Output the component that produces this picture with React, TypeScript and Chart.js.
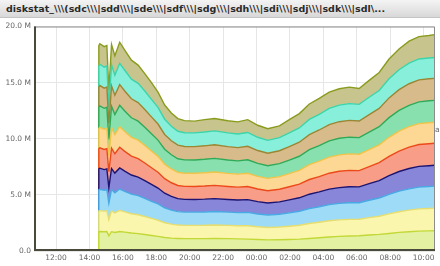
import React, { useEffect, useRef } from "react";
import { Chart, registerables } from "chart.js";

Chart.register(...registerables);

// time in hours since midnight of day 1 (values > 24 are next day)
const times = [10.68, 14.52, 14.56, 14.62, 14.88, 15.04, 15.16, 15.32, 15.52, 15.81, 16.11, 16.51, 16.91, 17.31, 17.71, 18.1, 18.5, 18.9, 19.29, 19.69, 20.29, 20.89, 21.49, 22.28, 22.88, 23.47, 24.07, 24.67, 25.37, 25.96, 26.56, 27.16, 27.75, 28.35, 28.95, 29.55, 30.14, 30.74, 31.34, 31.93, 32.53, 33.13, 33.72, 34.32, 34.66];

const sdc = [0, 0, 1.72, 1.74, 1.72, 1.73, 1.35, 1.72, 1.65, 1.74, 1.68, 1.6, 1.55, 1.47, 1.38, 1.3, 1.2, 1.15, 1.12, 1.1, 1.1, 1.1, 1.12, 1.1, 1.08, 1.06, 1.02, 0.99, 1.0, 1.02, 1.06, 1.12, 1.18, 1.25, 1.3, 1.34, 1.36, 1.42, 1.48, 1.56, 1.66, 1.72, 1.77, 1.79, 1.8];
const sdd = [0, 0, 1.85, 1.86, 1.83, 1.85, 1.44, 1.86, 1.75, 1.88, 1.8, 1.72, 1.68, 1.6, 1.52, 1.44, 1.32, 1.24, 1.19, 1.18, 1.18, 1.19, 1.2, 1.18, 1.17, 1.19, 1.14, 1.11, 1.14, 1.19, 1.24, 1.33, 1.38, 1.44, 1.47, 1.48, 1.47, 1.55, 1.62, 1.75, 1.84, 1.92, 1.98, 2.0, 2.02];
const sde = [0, 0, 1.88, 1.9, 1.86, 1.88, 1.45, 1.9, 1.78, 1.9, 1.83, 1.74, 1.7, 1.62, 1.53, 1.45, 1.33, 1.25, 1.2, 1.18, 1.18, 1.19, 1.2, 1.18, 1.17, 1.19, 1.14, 1.11, 1.14, 1.19, 1.24, 1.33, 1.38, 1.44, 1.47, 1.48, 1.47, 1.55, 1.62, 1.74, 1.83, 1.9, 1.94, 1.95, 1.96];
const sdf = [0, 0, 1.86, 1.88, 1.84, 1.85, 1.4, 1.87, 1.76, 1.88, 1.8, 1.71, 1.66, 1.58, 1.5, 1.42, 1.3, 1.22, 1.16, 1.14, 1.13, 1.14, 1.15, 1.13, 1.12, 1.14, 1.1, 1.07, 1.1, 1.15, 1.2, 1.28, 1.33, 1.38, 1.41, 1.42, 1.41, 1.48, 1.55, 1.66, 1.75, 1.81, 1.85, 1.86, 1.86];
const sdg = [0, 0, 1.8, 1.82, 1.8, 1.8, 1.42, 1.82, 1.72, 1.84, 1.77, 1.68, 1.64, 1.57, 1.49, 1.41, 1.29, 1.22, 1.17, 1.16, 1.16, 1.17, 1.18, 1.16, 1.15, 1.17, 1.12, 1.09, 1.12, 1.17, 1.22, 1.31, 1.36, 1.42, 1.45, 1.46, 1.45, 1.52, 1.6, 1.72, 1.82, 1.9, 1.95, 1.96, 1.96];
const sdh = [0, 0, 1.8, 1.82, 1.8, 1.81, 1.42, 1.82, 1.72, 1.84, 1.77, 1.68, 1.64, 1.57, 1.49, 1.41, 1.3, 1.23, 1.18, 1.17, 1.17, 1.18, 1.19, 1.17, 1.16, 1.18, 1.13, 1.1, 1.13, 1.18, 1.23, 1.32, 1.37, 1.43, 1.46, 1.47, 1.46, 1.52, 1.58, 1.7, 1.78, 1.83, 1.86, 1.87, 1.87];
const sdi = [0, 0, 1.88, 1.9, 1.86, 1.88, 1.45, 1.9, 1.78, 1.9, 1.83, 1.74, 1.7, 1.62, 1.54, 1.45, 1.33, 1.26, 1.2, 1.19, 1.19, 1.2, 1.21, 1.19, 1.18, 1.2, 1.15, 1.12, 1.15, 1.2, 1.25, 1.34, 1.39, 1.45, 1.48, 1.49, 1.48, 1.55, 1.62, 1.75, 1.84, 1.9, 1.94, 1.95, 1.95];
const sdj = [0, 0, 1.8, 1.82, 1.8, 1.81, 1.43, 1.82, 1.72, 1.84, 1.78, 1.69, 1.65, 1.58, 1.5, 1.43, 1.31, 1.25, 1.21, 1.19, 1.19, 1.2, 1.21, 1.19, 1.18, 1.2, 1.15, 1.12, 1.15, 1.2, 1.25, 1.34, 1.39, 1.45, 1.48, 1.5, 1.48, 1.56, 1.63, 1.76, 1.85, 1.92, 1.96, 1.96, 1.96];
const sdk = [0, 0, 1.88, 1.9, 1.86, 1.88, 1.46, 1.88, 1.78, 1.9, 1.84, 1.75, 1.71, 1.64, 1.56, 1.48, 1.36, 1.29, 1.24, 1.22, 1.22, 1.23, 1.24, 1.22, 1.21, 1.23, 1.18, 1.15, 1.17, 1.22, 1.27, 1.35, 1.4, 1.45, 1.48, 1.49, 1.48, 1.55, 1.6, 1.71, 1.78, 1.84, 1.86, 1.86, 1.86];
const sdl = [0, 0, 1.83, 1.82, 1.83, 1.81, 1.48, 1.81, 1.74, 1.88, 1.8, 1.69, 1.63, 1.55, 1.49, 1.36, 1.26, 1.19, 1.13, 1.08, 1.05, 1.1, 1.1, 1.08, 1.08, 1.14, 1.07, 1.04, 1.05, 1.18, 1.28, 1.38, 1.42, 1.44, 1.45, 1.47, 1.42, 1.5, 1.6, 1.75, 1.85, 1.96, 1.99, 2.0, 2.04];

const seriesNames = ["sdc", "sdd", "sde", "sdf", "sdg", "sdh", "sdi", "sdj", "sdk", "sdl"];
const seriesValues = [sdc, sdd, sde, sdf, sdg, sdh, sdi, sdj, sdk, sdl];
const fillColors = ["#e2f2a2", "#fbf6ae", "#9edbf6", "#8886d8", "#f89e88", "#fcd894", "#88e0ae", "#d8bb8a", "#88f0da", "#c8c48e"];
const lineColors = ["#c2d836", "#e6de70", "#48aae4", "#1c1470", "#ec4a1a", "#eec44a", "#30aa58", "#9a8634", "#3cd4aa", "#8a9c1e"];

const xTickHours = [12, 14, 16, 18, 20, 22, 24, 26, 28, 30, 32, 34];
const xTickLabels = ["12:00", "14:00", "16:00", "18:00", "20:00", "22:00", "00:00", "02:00", "04:00", "06:00", "08:00", "10:00"];
const yTickValues = [0, 5, 10, 15, 20];

const titleText = "diskstat_\\\\\\(sdc\\\\\\|sdd\\\\\\|sde\\\\\\|sdf\\\\\\|sdg\\\\\\|sdh\\\\\\|sdi\\\\\\|sdj\\\\\\|sdk\\\\\\|sdl\\...";

const framePlugin = {
  id: "frame",
  afterDatasetsDraw(chart: any) {
    const { ctx, chartArea: a } = chart;
    ctx.save();
    ctx.strokeStyle = "#8c8c8c";
    ctx.lineWidth = 1;
    ctx.beginPath();
    ctx.moveTo(a.left, a.top + 0.5);
    ctx.lineTo(a.right - 0.5, a.top + 0.5);
    ctx.lineTo(a.right - 0.5, a.bottom);
    ctx.stroke();
    ctx.strokeStyle = "#4a4a3c";
    ctx.lineWidth = 2;
    ctx.beginPath();
    ctx.moveTo(a.left + 1, a.top);
    ctx.lineTo(a.left + 1, a.bottom - 1);
    ctx.lineTo(a.right, a.bottom - 1);
    ctx.stroke();
    ctx.restore();
  },
};

export default function App() {
  const ref = useRef<HTMLCanvasElement | null>(null);
  useEffect(() => {
    if (!ref.current) return;
    const datasets = seriesValues.map((vals, i) => ({
      label: seriesNames[i],
      data: vals.map((v, j) => ({ x: times[j], y: v })),
      backgroundColor: fillColors[i],
      borderColor: lineColors[i],
      borderWidth: 1.4,
      pointRadius: 0,
      fill: i === 0 ? "origin" : "-1",
      tension: 0,
    }));
    const chart = new Chart(ref.current, {
      type: "line",
      data: { datasets },
      plugins: [framePlugin],
      options: {
        animation: false,
        responsive: false,
        maintainAspectRatio: false,
        layout: { padding: { top: 7, right: 5, left: 0, bottom: 0 } },
        plugins: { legend: { display: false }, tooltip: { enabled: false }, title: { display: false } },
        scales: {
          x: {
            type: "linear",
            min: 10.68,
            max: 34.68,
            afterBuildTicks: (s: any) => {
              s.ticks = xTickHours.map((v) => ({ value: v }));
            },
            afterFit: (s: any) => {
              s.height = 15;
            },
            ticks: {
              autoSkip: false,
              maxRotation: 0,
              padding: 3,
              color: "#666666",
              font: { family: "DejaVu Sans", size: 7.5 },
              callback: (_v: any, i: number) => xTickLabels[i],
            },
            grid: { color: "#e6e6e6", drawTicks: false },
            border: { display: false },
          },
          y: {
            stacked: true,
            min: 0,
            max: 20,
            afterBuildTicks: (s: any) => {
              s.ticks = yTickValues.map((v) => ({ value: v }));
            },
            afterFit: (s: any) => {
              s.width = 34;
            },
            ticks: {
              padding: 3,
              color: "#666666",
              font: { family: "DejaVu Sans", size: 7.5 },
              callback: (v: any) => (v === 0 ? "0.0" : `${Number(v).toFixed(1)} M`),
            },
            grid: { color: "#e6e6e6", drawTicks: false },
            border: { display: false },
          },
        },
      },
    });
    return () => chart.destroy();
  }, []);

  return (
    <div style={{ position: "fixed", left: 0, top: 0, width: 440, height: 266, background: "#ffffff", overflow: "hidden" }}>
      <div
        style={{
          position: "absolute",
          left: 0,
          top: 0,
          width: 440,
          height: 18,
          background: "linear-gradient(#f4f4f4, #d8d8d8)",
          borderBottom: "1px solid #c4c4c4",
          fontFamily: "DejaVu Sans",
          fontWeight: "bold",
          fontSize: 9.5,
          lineHeight: "18px",
          color: "#2a2a2a",
          paddingLeft: 6,
          whiteSpace: "nowrap",
          boxSizing: "border-box",
        }}
      >
        {titleText}
      </div>
      <canvas ref={ref} width={440} height={247} style={{ position: "absolute", left: 0, top: 19, width: 440, height: 247 }} />
      <span style={{ position: "absolute", left: 435, top: 125, fontFamily: "DejaVu Sans", fontSize: 7.5, color: "#666666" }}>a</span>
    </div>
  );
}
